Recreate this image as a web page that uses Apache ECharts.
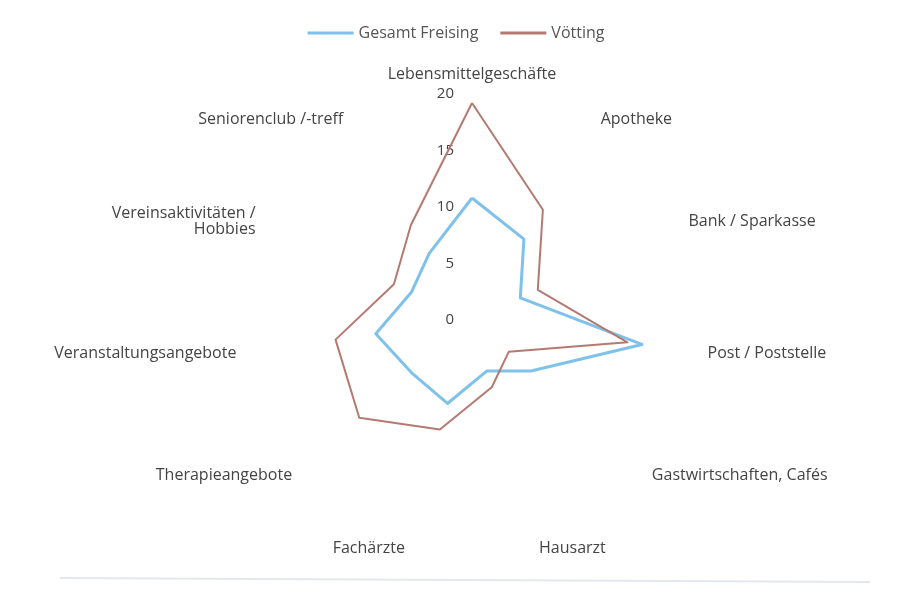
<!DOCTYPE html>
<html>
<head>
<meta charset="utf-8">
<script src="https://cdn.jsdelivr.net/npm/echarts@6/dist/echarts.min.js"></script>
<style>
html,body{margin:0;padding:0;background:#fff;}
#chart{width:912px;height:593px;}
</style>
</head>
<body>
<div id="chart"></div>
<script>
// Kategorien (im Uhrzeigersinn ab oben)
var kategorien = ['Lebensmittelgeschäfte', 'Apotheke', 'Bank / Sparkasse', 'Post / Poststelle',
    'Gastwirtschaften, Cafés', 'Hausarzt', 'Fachärzte', 'Therapieangebote',
    'Veranstaltungsangebote', 'Vereinsaktivitäten /\nHobbies', 'Seniorenclub /-treff'];
var gesamtFreising = [10.8, 8.5, 4.7, 15.2, 6.9, 4.7, 7.7, 7.1, 8.6, 5.9, 7.0];
var voetting = [19.2, 11.6, 6.4, 13.9, 4.3, 6.2, 10.1, 13.2, 12.2, 7.6, 10.0];
var achseMax = 20;

var chart = echarts.init(document.getElementById('chart'));

// echarts zeichnet gegen den Uhrzeigersinn -> Reihenfolge umdrehen (erstes Element bleibt oben)
function imUhrzeigersinn(arr) {
    return [arr[0]].concat(arr.slice(1).reverse());
}

var indikatoren = [];
var namen = imUhrzeigersinn(kategorien);
for (var i = 0; i < namen.length; i++) {
    var ind = { name: namen[i], min: 0, max: achseMax };
    if (i === 0) {
        // nur die obere Achse bekommt Beschriftung
        ind.axisLabel = { show: true };
    }
    indikatoren.push(ind);
}

var option = {
    backgroundColor: '#fff',
    textStyle: { fontFamily: 'Open Sans' },
    legend: {
        top: 20,
        left: 'center',
        itemWidth: 46,
        itemHeight: 3,
        itemGap: 22,
        icon: 'rect',
        textStyle: { color: '#555', fontSize: 16 },
        data: ['Gesamt Freising', 'Vötting']
    },
    radar: {
        center: [472, 320],
        radius: 226,
        startAngle: 90,
        splitNumber: 4,
        shape: 'polygon',
        indicator: indikatoren,
        axisName: { color: '#444', fontSize: 16 },
        nameGap: 12,
        axisLine: { show: false },
        splitLine: { show: false },
        splitArea: { show: false },
        axisTick: { show: false },
        axisLabel: { show: false, color: '#444', fontSize: 15, margin: 18 }
    },
    series: [{
        type: 'radar',
        symbol: 'none',
        data: [
            { name: 'Gesamt Freising', value: imUhrzeigersinn(gesamtFreising),
              lineStyle: { color: '#7ec2ec', width: 3 }, itemStyle: { color: '#7ec2ec' } },
            { name: 'Vötting', value: imUhrzeigersinn(voetting),
              lineStyle: { color: '#b47a70', width: 2 }, itemStyle: { color: '#b47a70' } }
        ]
    }],
    graphic: [{
        type: 'line',
        shape: { x1: 60, y1: 578, x2: 870, y2: 582 },
        style: { stroke: '#e3e8ee', lineWidth: 2 }
    }]
};
chart.setOption(option);
</script>
</body>
</html>
